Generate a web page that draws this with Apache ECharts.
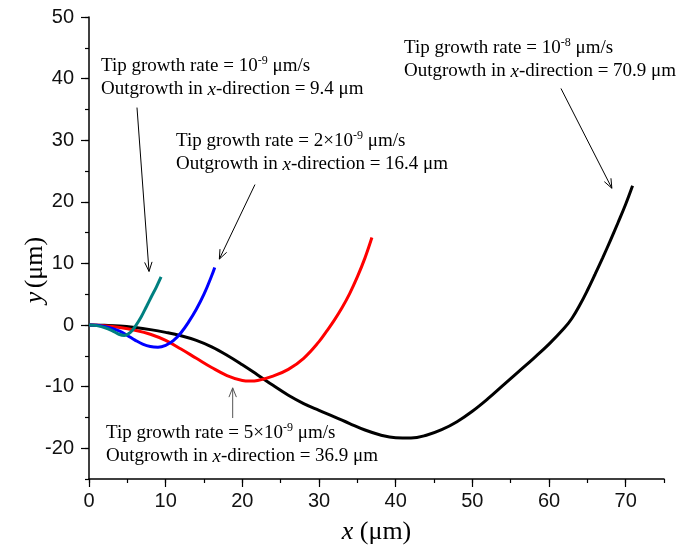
<!DOCTYPE html>
<html>
<head>
<meta charset="utf-8">
<script src="https://cdn.jsdelivr.net/npm/echarts@6/dist/echarts.min.js"></script>
<style>
  html, body { margin: 0; padding: 0; background: #fff; }
  #chart { width: 676px; height: 550px; }
</style>
</head>
<body>
<div id="chart"></div>
<script>
// Hyphal tip trajectories (x, y in µm) for four tip growth rates
var blackX = [0, 2, 4, 6, 8, 10, 12, 14, 16, 18, 20, 22, 24, 26, 28, 30, 32, 34, 36, 38, 40, 42, 44, 46, 48, 50, 52, 54, 56, 58, 60, 62, 63, 64, 65, 66, 67, 68, 69, 70, 70.9];
var blackY = [0, -0.05, -0.15, -0.4, -0.75, -1.2, -1.75, -2.5, -3.55, -4.9, -6.45, -8.1, -9.8, -11.4, -12.75, -13.85, -14.9, -16.0, -17.05, -17.85, -18.3, -18.35, -17.9, -17.0, -15.7, -14.0, -12.0, -9.8, -7.6, -5.4, -3.1, -0.5, 1.1, 3.2, 5.6, 8.2, 10.9, 13.7, 16.6, 19.6, 22.6];

var redX = [0, 2, 4, 6, 8, 10, 12, 14, 16, 18, 20, 21, 22, 24, 26, 28, 30, 31, 32, 33, 34, 35, 36, 36.9];
var redY = [0, -0.12, -0.4, -0.85, -1.5, -2.5, -3.9, -5.4, -6.9, -8.2, -9.0, -9.1, -9.0, -8.3, -7.2, -5.4, -2.7, -1.0, 0.8, 2.8, 5.1, 7.8, 10.9, 14.2];

var blueX = [0, 1, 2, 3, 4, 5, 6, 7, 8, 9, 10, 11, 12, 13, 14, 15, 16, 16.4];
var blueY = [0, -0.05, -0.25, -0.55, -1.0, -1.7, -2.45, -3.1, -3.5, -3.6, -3.3, -2.55, -1.25, 0.5, 2.55, 5.0, 8.0, 9.35];

var tealX = [0, 1, 2, 3, 3.9, 4.6, 5.4, 6.1, 6.8, 7.5, 8.1, 8.8, 9.4];
var tealY = [0, -0.1, -0.4, -0.9, -1.5, -1.7, -1.2, -0.1, 1.3, 3.0, 4.5, 6.2, 7.8];

var xMajorTicks = [0, 10, 20, 30, 40, 50, 60, 70];
var yMajorTicks = [-20, -10, 0, 10, 20, 30, 40, 50];

// Annotation arrows: [fromX, fromY, toX, toY] in data units
var arrowTeal = [6.26, 35.3, 7.83, 8.7];
var arrowBlue = [21.65, 22.8, 17.0, 10.7];
var arrowBlack = [61.56, 38.4, 68.2, 22.2];
var arrowRed = [18.74, -15.1, 18.74, -10.2];

function pairs(xs, ys) {
  return xs.map(function (x, i) { return [x, ys[i]]; });
}

var chart = echarts.init(document.getElementById('chart'), null, { renderer: 'canvas' });

var sansFont = '"Liberation Sans", Arial, sans-serif';
var serifFont = '"Liberation Serif", "Times New Roman", serif';

function curve(name, xs, ys, color) {
  return {
    name: name,
    type: 'line',
    xAxisIndex: 0,
    yAxisIndex: 0,
    data: pairs(xs, ys),
    showSymbol: false,
    smooth: 0.4,
    lineStyle: { color: color, width: 3 },
    animation: false
  };
}

chart.setOption({
  backgroundColor: '#fff',
  animation: false,
  grid: { left: 89, right: 12, top: 17, bottom: 71, containLabel: false },
  xAxis: [{
    type: 'value', min: 0, max: 75, interval: 5,
    position: 'bottom',
    axisLine: { show: true, onZero: false, lineStyle: { color: '#000', width: 1.5 } },
    axisTick: { show: true, length: 4, lineStyle: { color: '#000', width: 1.2 } },
    axisLabel: {
      margin: 12, color: '#111', fontSize: 20, fontFamily: sansFont,
      formatter: function (v) { return v % 10 === 0 ? String(v) : ''; }
    },
    splitLine: { show: false },
    name: '{i|x} ({n|μm})',
    nameLocation: 'middle',
    nameGap: 40,
    nameTextStyle: {
      fontFamily: serifFont, fontSize: 26, color: '#000',
      rich: {
        i: { fontFamily: serifFont, fontSize: 26, fontStyle: 'italic', color: '#000' },
        n: { fontFamily: serifFont, fontSize: 26, color: '#000' }
      }
    }
  }, {
    type: 'value', min: 0, max: 75,
    position: 'bottom',
    axisLine: { show: false, onZero: false },
    axisTick: { show: true, length: 8, customValues: xMajorTicks, lineStyle: { color: '#000', width: 1.2 } },
    axisLabel: { show: false },
    splitLine: { show: false }
  }],
  yAxis: [{
    type: 'value', min: -25, max: 50, interval: 5,
    position: 'left',
    axisLine: { show: true, onZero: false, lineStyle: { color: '#000', width: 1.5 } },
    axisTick: { show: true, length: 4, lineStyle: { color: '#000', width: 1.2 } },
    axisLabel: {
      margin: 15, color: '#111', fontSize: 20, fontFamily: sansFont,
      formatter: function (v) { return v % 10 === 0 ? String(v) : ''; }
    },
    splitLine: { show: false }
  }, {
    type: 'value', min: -25, max: 50,
    position: 'left',
    axisLine: { show: false, onZero: false },
    axisTick: { show: true, length: 8, customValues: yMajorTicks, lineStyle: { color: '#000', width: 1.2 } },
    axisLabel: { show: false },
    splitLine: { show: false }
  }],
  series: [
    curve('1e-8', blackX, blackY, '#000000'),
    curve('5e-9', redX, redY, '#ff0000'),
    curve('2e-9', blueX, blueY, '#0000ff'),
    curve('1e-9', tealX, tealY, '#008080')
  ]
});

// Arrows and annotation text
function arrowGraphics(a, color) {
  var p0 = chart.convertToPixel({ xAxisIndex: 0, yAxisIndex: 0 }, [a[0], a[1]]);
  var p1 = chart.convertToPixel({ xAxisIndex: 0, yAxisIndex: 0 }, [a[2], a[3]]);
  var ang = Math.atan2(p1[1] - p0[1], p1[0] - p0[0]);
  var len = 10, spread = 0.38;
  var h1 = [p1[0] - len * Math.cos(ang - spread), p1[1] - len * Math.sin(ang - spread)];
  var h2 = [p1[0] - len * Math.cos(ang + spread), p1[1] - len * Math.sin(ang + spread)];
  var st = { stroke: color, lineWidth: 1, fill: null };
  return [
    { type: 'line', shape: { x1: p0[0], y1: p0[1], x2: p1[0], y2: p1[1] }, style: st, z: 50 },
    { type: 'polyline', shape: { points: [h1, p1, h2] }, style: st, z: 50 }
  ];
}

var rich = {
  a: { fontFamily: serifFont, fontSize: 19, color: '#000', lineHeight: 23 },
  s: { fontFamily: serifFont, fontSize: 12, color: '#000', lineHeight: 15, verticalAlign: 'top' },
  i: { fontFamily: serifFont, fontSize: 19, fontStyle: 'italic', color: '#000', lineHeight: 23 }
};

function note(x, y, pre, sup, value) {
  return {
    type: 'text', x: x, y: y, z: 60,
    style: {
      text: '{a|Tip growth rate = ' + pre + '}{s|' + sup + '}{a| μm/s}\n' +
            '{a|Outgrowth in }{i|x}{a|-direction = ' + value + ' μm}',
      rich: rich,
      align: 'left',
      verticalAlign: 'top'
    }
  };
}

var yName = {
  type: 'text', x: 35, y: 270, rotation: Math.PI / 2, z: 60,
  style: {
    text: '{i|y} {n|(μm)}',
    align: 'center',
    verticalAlign: 'middle',
    rich: {
      i: { fontFamily: serifFont, fontSize: 26, fontStyle: 'italic', color: '#000' },
      n: { fontFamily: serifFont, fontSize: 26, color: '#000' }
    }
  }
};

var graphics = []
  .concat(arrowGraphics(arrowTeal, '#000'))
  .concat(arrowGraphics(arrowBlue, '#000'))
  .concat(arrowGraphics(arrowBlack, '#000'))
  .concat(arrowGraphics(arrowRed, '#555'))
  .concat([
    yName,
    note(101, 55, '10', '-9', '9.4'),
    note(176, 130, '2×10', '-9', '16.4'),
    note(404, 37, '10', '-8', '70.9'),
    note(106, 422, '5×10', '-9', '36.9')
  ]);

chart.setOption({ graphic: graphics });
</script>
</body>
</html>
